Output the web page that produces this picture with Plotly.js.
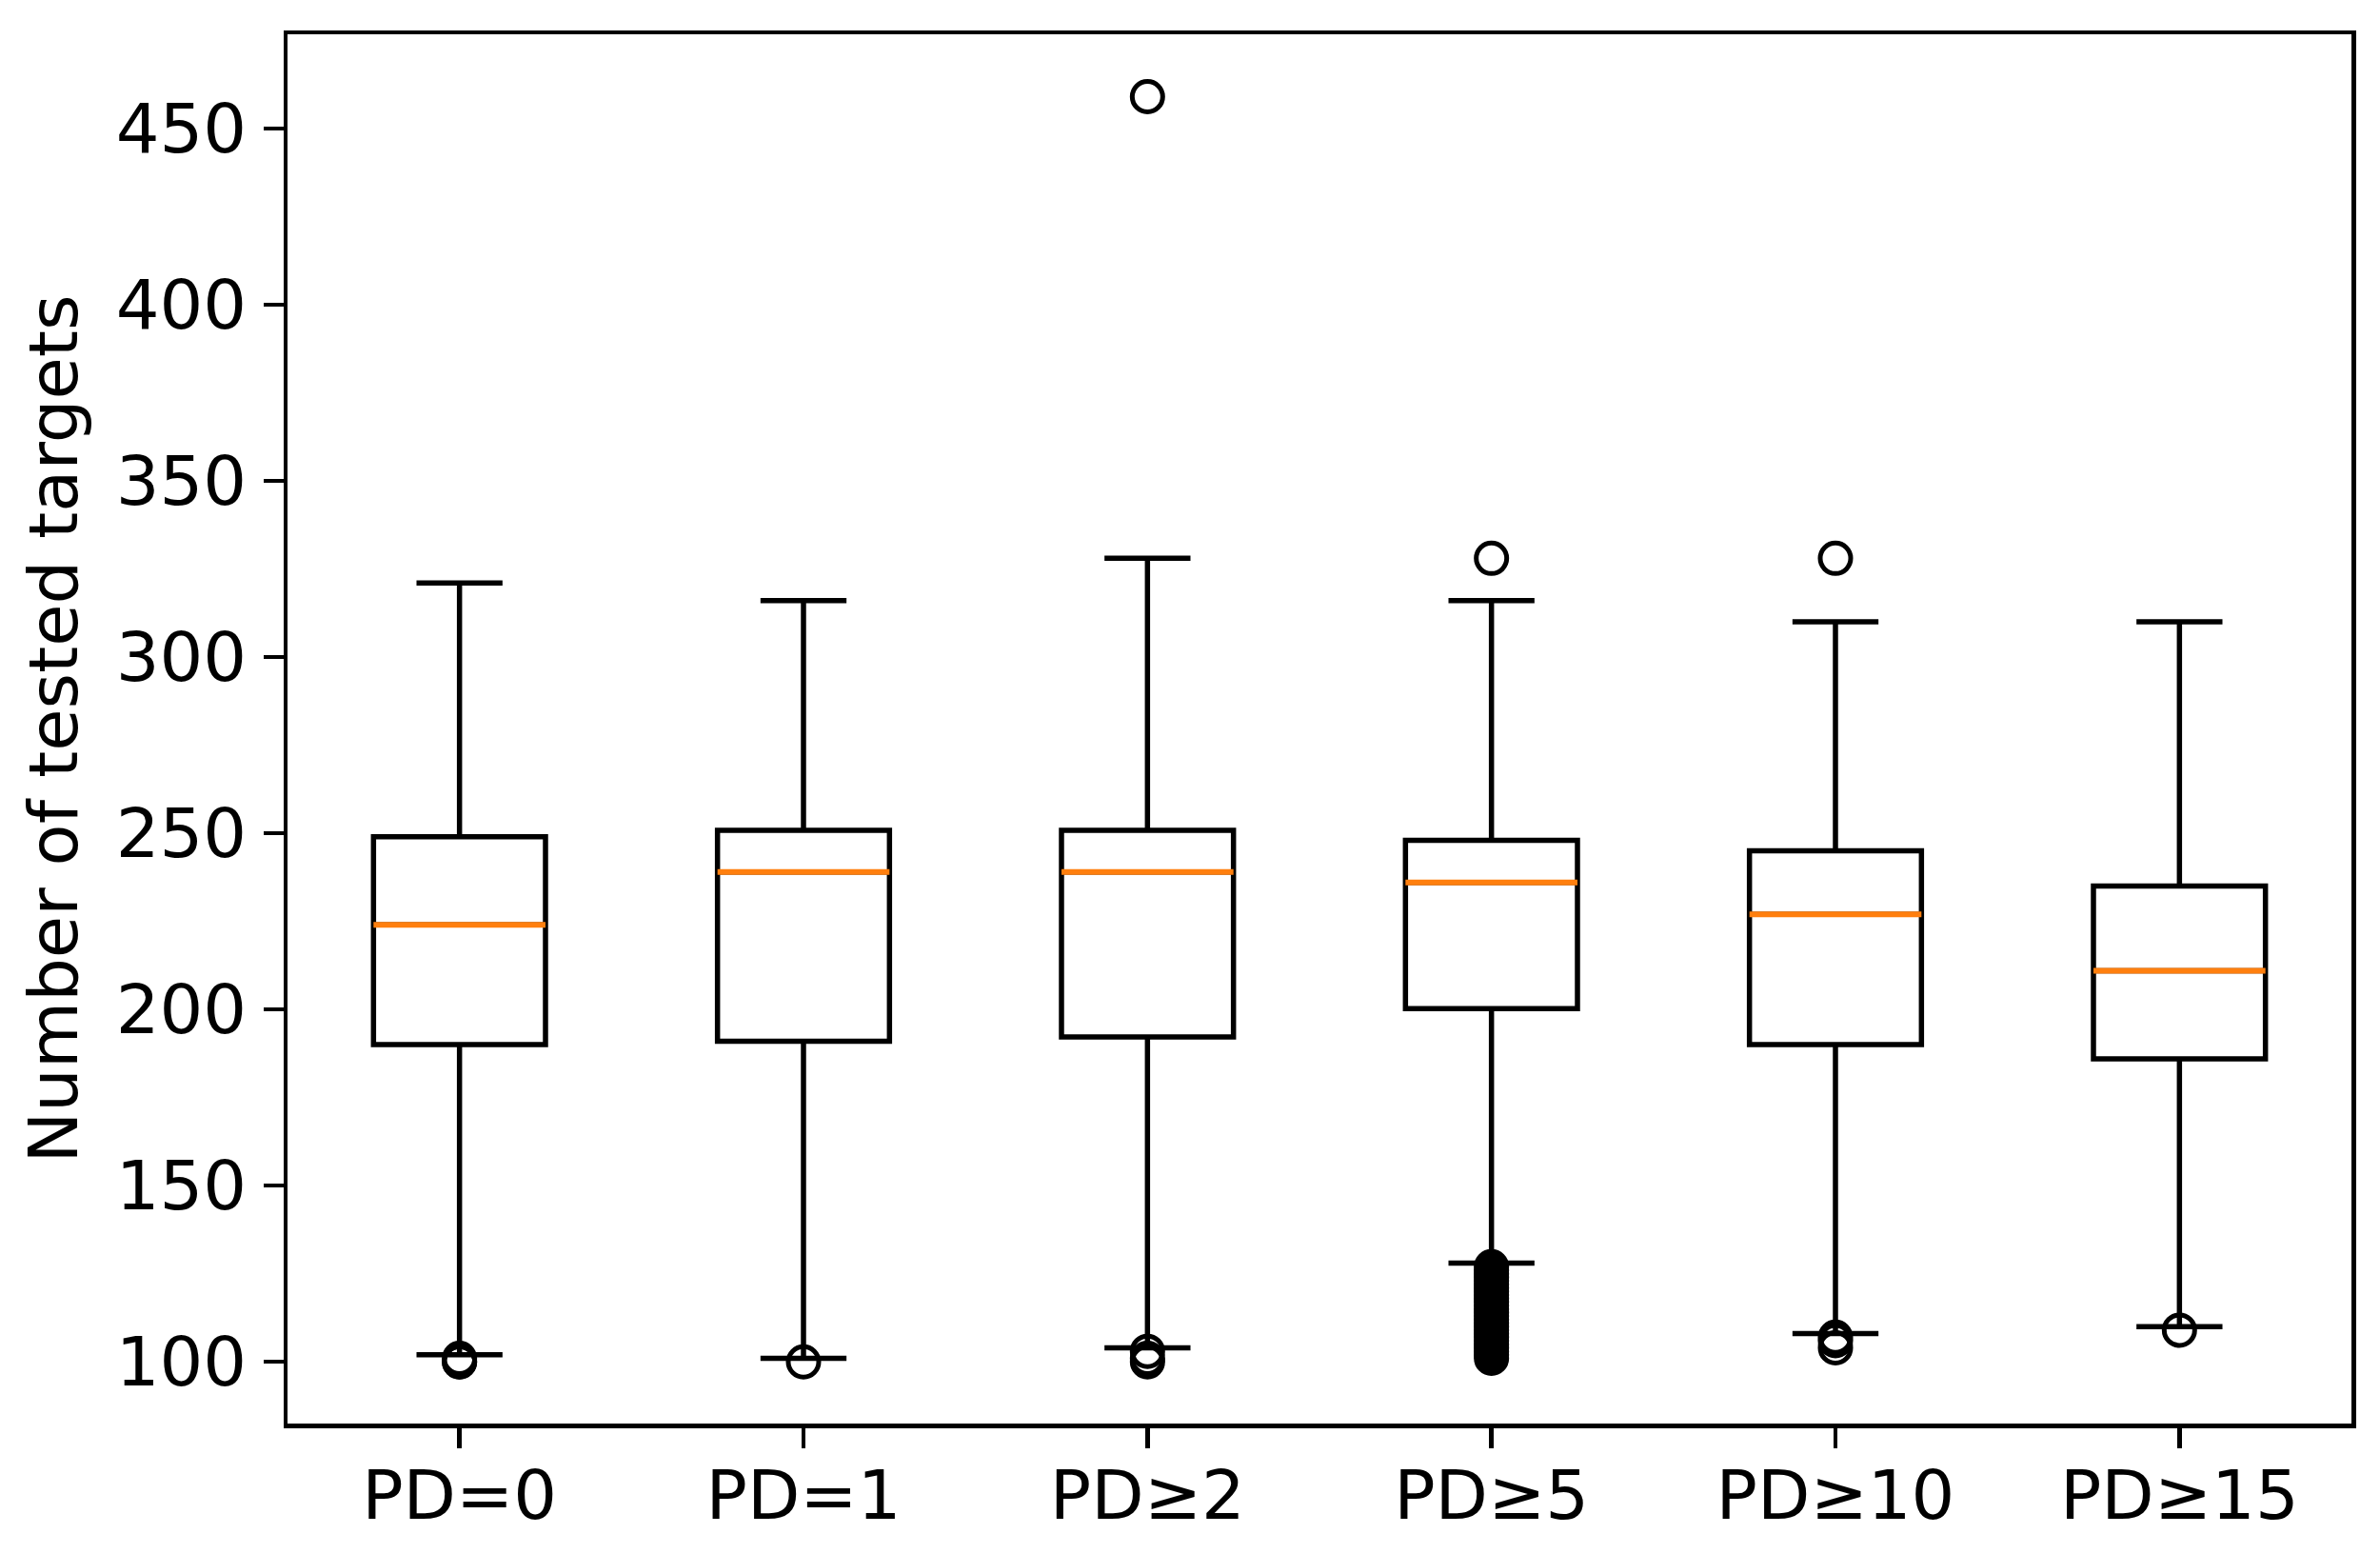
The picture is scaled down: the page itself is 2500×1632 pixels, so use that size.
<!DOCTYPE html>
<html>
<head>
<meta charset="utf-8">
<script src="https://cdn.plot.ly/plotly-3.0.1.min.js"></script>
<style>html,body{margin:0;padding:0;background:#fff;}#chart{width:2500px;height:1632px;}</style>
</head>
<body>
<div id="chart"></div>
<script>
var categories = ['PD=0', 'PD=1', 'PD\u22652', 'PD\u22655', 'PD\u226510', 'PD\u226515'];
var q1Values = [190, 191, 192.2, 200.2, 190, 186];
var medianValues = [224, 239, 239, 236, 227, 211];
var q3Values = [249, 250.8, 250.8, 248, 245, 235];
var lowerWhisker = [102, 101, 104, 128, 108, 110];
var upperWhisker = [321, 316, 328, 316, 310, 310];
var outliers0 = [100, 100, 101];
var outliers1 = [100];
var outliers2 = [100, 101, 103, 459];
var outliers3 = [101, 102, 103, 104, 105, 106, 107, 108, 109, 110, 111, 112, 113, 114, 115, 116, 117, 118, 119, 120, 121, 122, 123, 124, 125, 126, 127, 328];
var outliers4 = [104, 106, 107, 328];
var outliers5 = [109];
var yTicks = [100, 150, 200, 250, 300, 350, 400, 450];

var allOutliers = [outliers0, outliers1, outliers2, outliers3, outliers4, outliers5];
var positions = categories.map(function (c, i) { return i + 1; });
var boxWidth = 0.5;

var boxTrace = {
  type: 'box',
  x: positions,
  q1: q1Values,
  median: medianValues,
  q3: q3Values,
  lowerfence: lowerWhisker,
  upperfence: upperWhisker,
  width: boxWidth,
  whiskerwidth: 0.5,
  fillcolor: 'rgba(0,0,0,0)',
  line: { color: '#000000', width: 5.5 },
  boxpoints: false,
  hoverinfo: 'skip',
  showlegend: false
};

var medX = [], medY = [];
positions.forEach(function (p, i) {
  medX.push(p - boxWidth / 2, p + boxWidth / 2, null);
  medY.push(medianValues[i], medianValues[i], null);
});
var medianTrace = {
  type: 'scatter', mode: 'lines', x: medX, y: medY,
  line: { color: '#ff7f0e', width: 6 },
  hoverinfo: 'skip', showlegend: false
};

var outX = [], outY = [];
allOutliers.forEach(function (arr, i) {
  arr.forEach(function (v) { outX.push(positions[i]); outY.push(v); });
});
var outlierTrace = {
  type: 'scatter', mode: 'markers', x: outX, y: outY,
  marker: { symbol: 'circle-open', size: 32, color: '#000000', line: { width: 5, color: '#000000' } },
  hoverinfo: 'skip', showlegend: false, cliponaxis: false
};

var font = { family: 'DejaVu Sans', size: 72, color: '#000000' };

var layout = {
  width: 2500, height: 1632,
  margin: { l: 302, r: 30, t: 36, b: 137, pad: 0 },
  paper_bgcolor: '#ffffff', plot_bgcolor: '#ffffff',
  font: font,
  showlegend: false,
  xaxis: {
    range: [0.5, 6.5],
    tickmode: 'array', tickvals: positions, ticktext: categories,
    showgrid: false, zeroline: false,
    showline: true, mirror: true, linecolor: '#000000', linewidth: 4.5,
    ticks: 'outside', ticklen: 21, tickwidth: 4.5, tickcolor: '#000000',
    tickfont: font, ticklabelstandoff: -12
  },
  yaxis: {
    range: [82.5, 476.7],
    tickmode: 'array', tickvals: yTicks,
    showgrid: false, zeroline: false,
    showline: true, mirror: true, linecolor: '#000000', linewidth: 4.5,
    ticks: 'outside', ticklen: 21, tickwidth: 4.5, tickcolor: '#000000',
    tickfont: font, ticklabelstandoff: 3,
    title: { text: 'Number of tested targets', font: font, standoff: 18 }
  }
};

Plotly.newPlot('chart', [boxTrace, medianTrace, outlierTrace], layout, { staticPlot: true, displayModeBar: false });
</script>
</body>
</html>
